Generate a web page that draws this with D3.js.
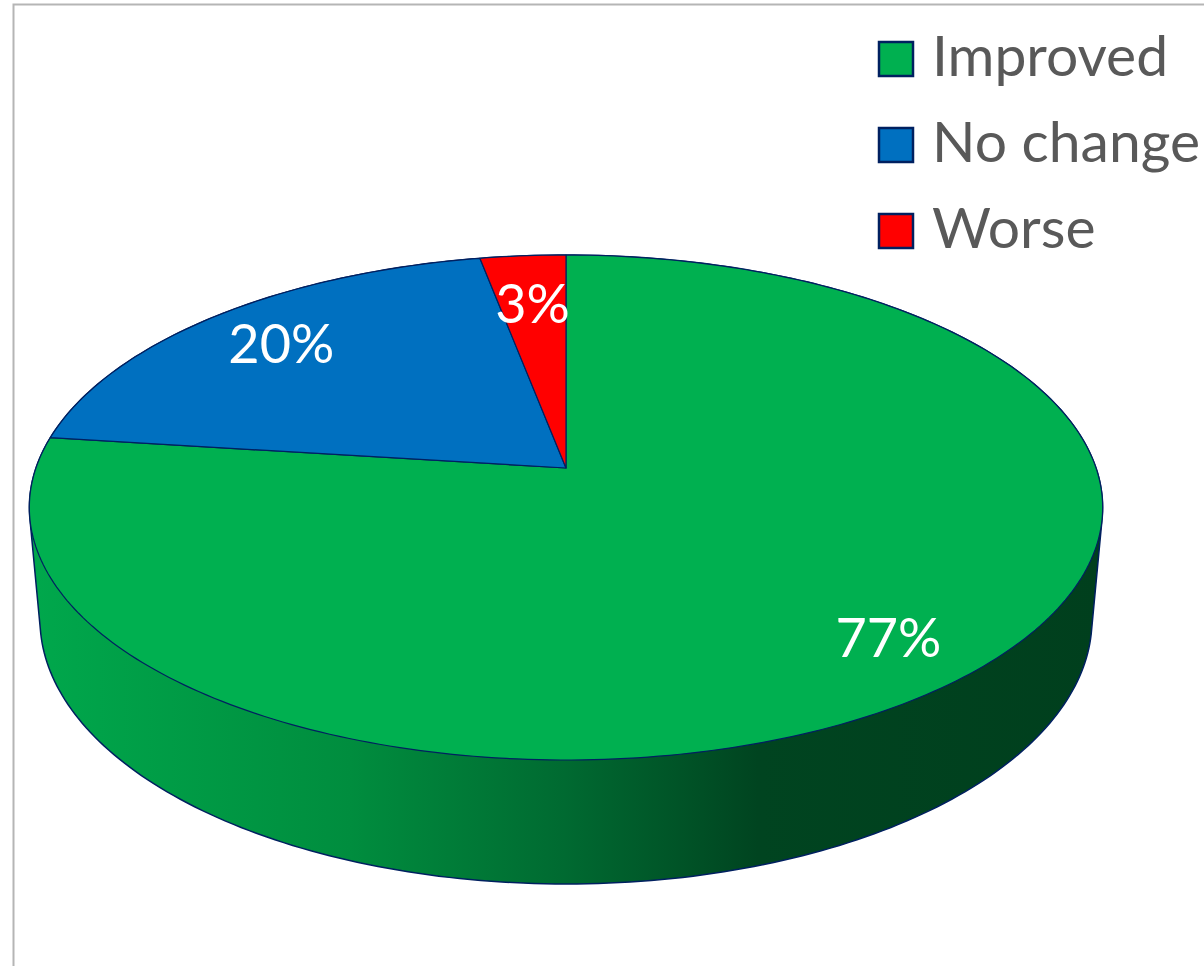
<!DOCTYPE html>
<html>
<head>
<meta charset="utf-8">
<script src="https://cdn.jsdelivr.net/npm/d3@7"></script>
<style>
	body { margin: 0; background: #fff; }
	#chart-area { width: 1204px; height: 966px; }
</style>
</head>
<body>
<div id="chart-area"></div>
<script>

// data
const categories = ["Improved", "No change", "Worse"];
const values = [77, 20, 3];
const labels = ["77%", "20%", "3%"];
const colors = ["#00B050", "#0070C0", "#FF0000"];

// where the label sits along the slice radius (0 = centre, 1 = rim)
const labelRadius = [0.83, 0.8, 0.75];

class Pie3D {

	constructor(parentElement) {
		this._parentElement = parentElement;
		this.initVis();
	}

	initVis() {
		let vis = this;

		vis.width = 1204;
		vis.height = 966;

		vis.svg = d3.select("#" + vis._parentElement).append("svg")
			.attr("width", vis.width)
			.attr("height", vis.height)
			.style("font-family", "Lato, 'Open Sans', sans-serif");

		// chart frame (only top and left edges show)
		vis.svg.append("path")
			.attr("d", "M13.5,966V4.5H1204")
			.attr("fill", "none")
			.attr("stroke", "#b5b5b5")
			.attr("stroke-width", 2);

		// perspective camera for the tilted disc
		vis.cx = 566;
		vis.cy = 468;
		vis.F = 2999;
		vis.D = 5.658;
		vis.sinA = 0.4647;
		vis.cosA = Math.sqrt(1 - vis.sinA * vis.sinA);
		vis.depth = 0.2403;

		vis.project = function(theta, r, y) {
			let u = r * Math.sin(theta);
			let v = r * Math.cos(theta);
			let yc = v * vis.sinA + y * vis.cosA;
			let zc = vis.D + v * vis.cosA - y * vis.sinA;
			return [vis.cx + vis.F * u / zc, vis.cy - vis.F * yc / zc];
		};

		vis.pie = d3.pie().sort(null).value(d => d);
		vis.arcs = vis.pie(values);

		vis.color = d3.scaleOrdinal().domain(categories).range(colors);

		vis.line = d3.line().curve(d3.curveLinearClosed);

		// side wall shading
		let grad = vis.svg.append("defs").append("linearGradient")
			.attr("id", "side")
			.attr("gradientUnits", "userSpaceOnUse")
			.attr("x1", 28).attr("x2", 1102)
			.attr("y1", 0).attr("y2", 0);
		[[0, "#00A84C"], [0.3, "#008D3E"], [0.5, "#006A31"], [0.68, "#004420"], [1, "#003F1D"]]
			.forEach(s => grad.append("stop").attr("offset", s[0]).attr("stop-color", s[1]));

		// side: hull of top and bottom rims
		let rim = [];
		for (let i = 0; i < 360; i++) {
			let t = i * Math.PI / 180;
			rim.push(vis.project(t, 1, 0));
			rim.push(vis.project(t, 1, -vis.depth));
		}
		vis.svg.append("path")
			.attr("d", vis.line(d3.polygonHull(rim)))
			.attr("fill", "url(#side)")
			.attr("stroke", "#002060")
			.attr("stroke-width", 1.5);

		// top faces
		vis.svg.selectAll(".slice")
			.data(vis.arcs)
			.enter().append("path")
			.attr("class", "slice")
			.attr("d", d => {
				let pts = [vis.project(0, 0, 0)];
				let n = Math.max(2, Math.ceil((d.endAngle - d.startAngle) * 180 / Math.PI));
				for (let i = 0; i <= n; i++) {
					let t = d.startAngle + (d.endAngle - d.startAngle) * i / n;
					pts.push(vis.project(t, 1, 0));
				}
				return vis.line(pts);
			})
			.attr("fill", (d, i) => vis.color(categories[i]))
			.attr("stroke", "#002060")
			.attr("stroke-width", 1.2)
			.attr("stroke-linejoin", "round");

		// data labels
		vis.svg.selectAll(".label")
			.data(vis.arcs)
			.enter().append("text")
			.attr("class", "label")
			.attr("x", (d, i) => vis.project((d.startAngle + d.endAngle) / 2, labelRadius[i], 0)[0])
			.attr("y", (d, i) => vis.project((d.startAngle + d.endAngle) / 2, labelRadius[i], 0)[1])
			.attr("text-anchor", "middle")
			.attr("dy", "0.36em")
			.attr("fill", "#fff")
			.attr("font-size", 54)
			.text((d, i) => labels[i]);

		// legend
		let legend = vis.svg.selectAll(".legend")
			.data(categories)
			.enter().append("g")
			.attr("class", "legend")
			.attr("transform", (d, i) => "translate(879," + (42 + i * 86) + ")");

		legend.append("rect")
			.attr("width", 34)
			.attr("height", 34)
			.attr("fill", d => vis.color(d))
			.attr("stroke", "#002060")
			.attr("stroke-width", 2.5);

		legend.append("text")
			.attr("x", 53)
			.attr("y", 34)
			.attr("fill", "#595959")
			.attr("font-size", 57)
			.text(d => d);
	}
}

new Pie3D("chart-area");

</script>
</body>
</html>
